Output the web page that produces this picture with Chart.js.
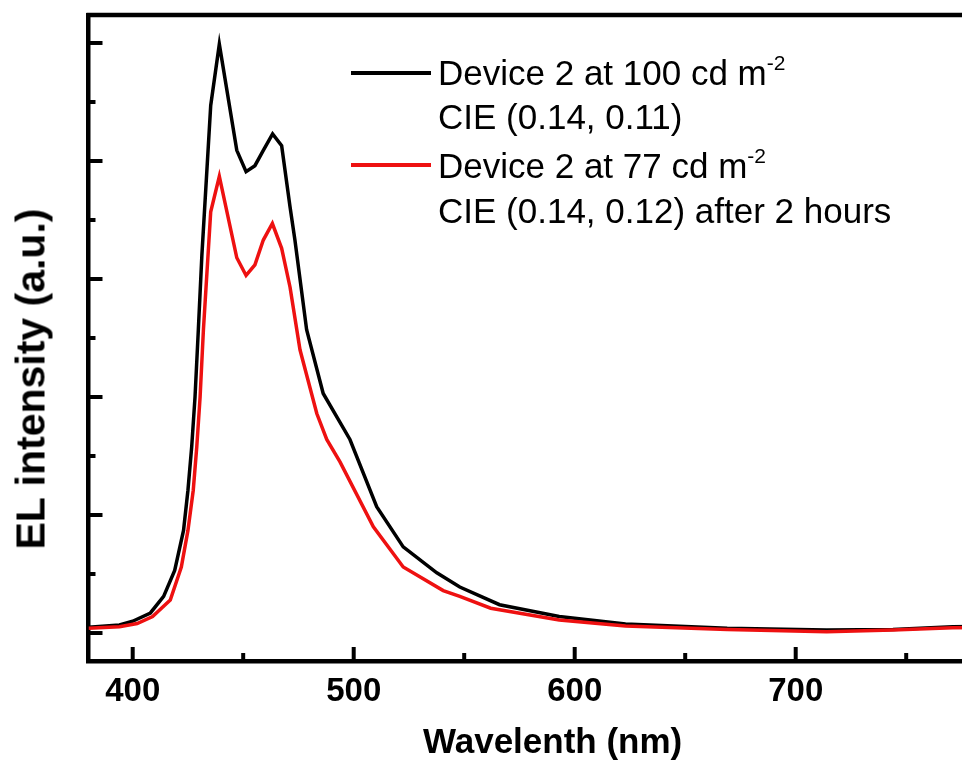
<!DOCTYPE html>
<html>
<head>
<meta charset="utf-8">
<script src="https://cdn.jsdelivr.net/npm/chart.js@4.4.1/dist/chart.umd.min.js"></script>
<style>
  html, body { margin: 0; padding: 0; background: #fff; overflow: hidden; }
  /* the figure is cropped on the right, like the source image */
  #wrap { position: relative; width: 962px; height: 764px; overflow: hidden; }
  #chart { display: block; }
  .legend-line { position: absolute; left: 351px; width: 80px; height: 3.5px; }
  .legend-text {
    position: absolute; left: 438px; height: 35px; line-height: 35px;
    font-family: "Liberation Sans", Arial, sans-serif; font-size: 35px;
    color: #000; white-space: nowrap;
  }
  .legend-text sup { font-size: 21px; line-height: 0; vertical-align: 15px; }
  #ytitle {
    position: absolute; left: 31px; top: 379px;
    transform: translate(-50%, -50%) rotate(-90deg);
    font-family: "Liberation Sans", Arial, sans-serif; font-size: 41px; font-weight: bold;
    line-height: 41px; white-space: nowrap; color: #000;
  }
</style>
</head>
<body>
<div id="wrap">
  <canvas id="chart" width="1060" height="764"></canvas>
  <div id="ytitle">EL intensity (a.u.)</div>
  <div class="legend-line" style="top:71px; background:#000;"></div>
  <div class="legend-text" style="top:55px;">Device 2 at 100 cd m<sup>-2</sup></div>
  <div class="legend-text" style="top:99px;">CIE (0.14, 0.11)</div>
  <div class="legend-line" style="top:163px; background:#ee1111;"></div>
  <div class="legend-text" style="top:148px;">Device 2 at 77 cd m<sup>-2</sup></div>
  <div class="legend-text" style="top:193px;">CIE (0.14, 0.12) after 2 hours</div>
</div>
<script>
// Device 2 at 100 cd m-2 (black)
const blackWl = [380, 394, 400, 408, 414, 419, 423, 425, 426.7, 428.2, 429.7, 431.3, 435.3, 439.2,
  447.1, 451.3, 455.3, 459.1, 463.3, 467.4, 471.2, 473.4, 478.7, 486.2, 498.3, 510.4, 522.4,
  537.6, 548, 566, 593, 623, 669, 714, 744, 771, 800];
const blackEL = [0.05, 0.068, 0.10, 0.17, 0.31, 0.53, 0.87, 1.21, 1.58, 2.0, 2.57, 3.2, 4.47, 4.99,
  4.09, 3.91, 3.96, 4.09, 4.23, 4.13, 3.61, 3.33, 2.57, 2.03, 1.64, 1.07, 0.73,
  0.51, 0.39, 0.24, 0.14, 0.076, 0.04, 0.025, 0.03, 0.053, 0.06];

// Device 2 at 77 cd m-2 after 2 hours (red)
const redWl = [380, 394, 402, 409, 417, 422, 425, 427.4, 429, 430.5, 432, 435.3, 439.2,
  447.1, 451.3, 455.3, 459.1, 463.2, 467.4, 471.2, 475.7, 483.3, 487.8, 493.8, 508.9, 522.4,
  540.5, 548, 562, 593, 623, 669, 714, 744, 771, 800];
const redEL = [0.04, 0.053, 0.08, 0.14, 0.28, 0.56, 0.87, 1.21, 1.58, 2.0, 2.57, 3.57, 3.87,
  3.18, 3.03, 3.12, 3.33, 3.47, 3.26, 2.93, 2.40, 1.86, 1.64, 1.45, 0.90, 0.56,
  0.36, 0.31, 0.21, 0.11, 0.06, 0.03, 0.01, 0.025, 0.045, 0.05];

const xTickStep = 50;     // minor ticks every 50 nm, labels every 100 nm
const yTickStep = 0.5;    // minor ticks, majors on whole units

function toPoints(xs, ys) {
    return xs.map((x, i) => ({ x: x, y: ys[i] }));
}

// frame top/right + inward tick marks
const framePlugin = {
    id: 'frame',
    afterDraw(chart) {
        const { ctx, chartArea: a, scales: { x, y } } = chart;
        ctx.save();
        ctx.strokeStyle = '#000';
        ctx.lineWidth = 4.5;
        ctx.beginPath();
        ctx.moveTo(a.left - 2, a.top);
        ctx.lineTo(a.right, a.top);
        ctx.lineTo(a.right, a.bottom);
        ctx.stroke();

        ctx.lineWidth = 4;
        x.ticks.forEach(t => {
            if (t.value % xTickStep !== 0) return;
            const px = x.getPixelForValue(t.value);
            const len = t.value % 100 === 0 ? 14 : 8;
            ctx.beginPath();
            ctx.moveTo(px, a.bottom);
            ctx.lineTo(px, a.bottom - len);
            ctx.stroke();
        });
        y.ticks.forEach(t => {
            const v = Math.round(t.value * 1000) / 1000;
            if (Math.abs(v / yTickStep - Math.round(v / yTickStep)) > 1e-6) return;
            const py = y.getPixelForValue(v);
            const len = Number.isInteger(v) ? 14 : 7;
            ctx.beginPath();
            ctx.moveTo(a.left, py);
            ctx.lineTo(a.left + len, py);
            ctx.stroke();
        });
        ctx.restore();
    }
};

const ctx = document.getElementById('chart').getContext('2d');
new Chart(ctx, {
    type: 'line',
    data: {
        datasets: [{
            label: 'Device 2 at 100 cd m-2, CIE (0.14, 0.11)',
            data: toPoints(blackWl, blackEL),
            borderColor: '#000000',
            borderWidth: 3.5,
            pointRadius: 0,
            tension: 0,
            order: 1
        }, {
            label: 'Device 2 at 77 cd m-2, CIE (0.14, 0.12) after 2 hours',
            data: toPoints(redWl, redEL),
            borderColor: '#ee1111',
            borderWidth: 3.5,
            pointRadius: 0,
            tension: 0,
            order: 0
        }]
    },
    options: {
        responsive: false,
        animation: false,
        layout: { padding: { top: 15, right: 43.3, bottom: 0, left: 0 } },
        plugins: {
            legend: { display: false },
            tooltip: { enabled: false }
        },
        scales: {
            x: {
                type: 'linear',
                min: 380,
                max: 800,
                afterFit: s => { s.height = 103; },
                grid: { display: false, drawTicks: false },
                border: { display: true, color: '#000', width: 4.5 },
                ticks: {
                    stepSize: xTickStep,
                    autoSkip: false,
                    includeBounds: false,
                    maxRotation: 0,
                    padding: 11,
                    color: '#000',
                    font: { family: 'Liberation Sans, Arial, sans-serif', size: 33, weight: 'bold' },
                    callback: v => (v % 100 === 0 ? v : '')
                },
                title: {
                    display: true,
                    text: 'Wavelenth (nm)',
                    color: '#000',
                    padding: { top: 0, bottom: 0 },
                    font: { family: 'Liberation Sans, Arial, sans-serif', size: 35, weight: 'bold' }
                }
            },
            y: {
                type: 'linear',
                min: -0.237,
                max: 5.237,
                afterFit: s => { s.width = 88.5; },
                grid: { display: false, drawTicks: false },
                border: { display: true, color: '#000', width: 4.5 },
                ticks: { display: false, stepSize: yTickStep, includeBounds: false },
                title: { display: false }
            }
        }
    },
    plugins: [framePlugin]
});
</script>
</body>
</html>
